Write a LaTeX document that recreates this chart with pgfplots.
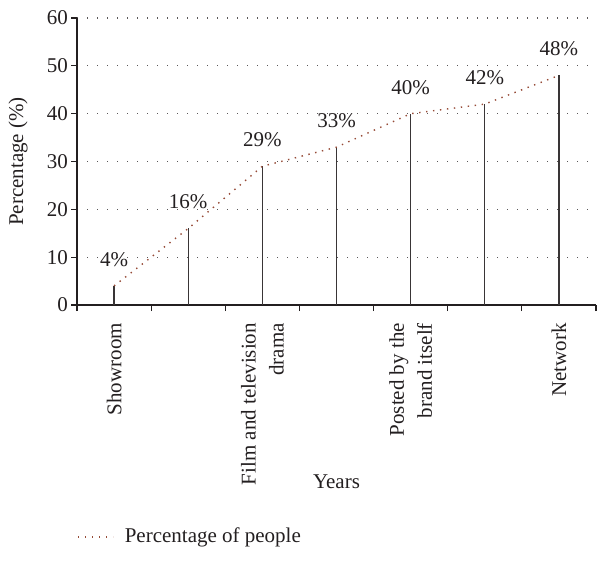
\documentclass[border=0pt]{standalone}
\usepackage{fontspec}
\setmainfont{Liberation Serif}
\usepackage{pgfplots}
\pgfplotsset{compat=1.18}
\definecolor{txt}{RGB}{35,31,32}
\definecolor{trend}{RGB}{150,75,55}
\begin{document}
\begin{tikzpicture}[font=\fontsize{10.5}{14}\selectfont, text=txt]
\useasboundingbox (-38.5pt,-132.5pt) rectangle (260pt,152.5pt);
\begin{axis}[
  at={(0,0)}, anchor=south west,
  scale only axis, width=259.5pt, height=143.5pt,
  xmin=-0.5, xmax=6.5, ymin=0, ymax=60,
  axis lines=left, axis line style={-, line width=0.6pt, draw=txt},
  xtick={-0.5,0.5,1.5,2.5,3.5,4.5,5.5,6.5}, xticklabels={},
  extra x ticks={0,2,4,6},
  extra x tick labels={Showroom,{Film and television\\drama},{Posted by the\\brand itself},Network},
  extra x tick style={major tick length=0pt, grid=none, tick style={draw=none}},
  ytick={0,10,...,60},
  tick align=outside, major tick length=3pt,
  tick style={line width=0.6pt, draw=txt},
  ymajorgrids,
  grid style={draw=txt!75, line width=0.6pt, dash pattern=on 0.6pt off 4.4pt},
  /pgf/number format/assume math mode=true,
  x tick label style={rotate=90, anchor=east, align=right, xshift=-5.5pt},
  y tick label style={xshift=2pt},
  xlabel={Years},
  xlabel style={at={(axis description cs:0.5,-0.6167)}, anchor=center},
  ylabel={Percentage (\%)},
  ylabel style={at={(axis description cs:-0.1137,0.5)}, anchor=center},
  legend style={at={(axis description cs:0,-0.808)}, anchor=west, draw=none, fill=none,
    inner sep=0pt, font=\fontsize{10.5}{14}\selectfont, text=txt},
  legend image code/.code={\draw[#1] (0pt,0pt) -- (17.5pt,0pt); \path (21pt,0pt);},
]
% stems for each channel, labelled with their share
\addplot[ycomb, draw=txt!90, line width=0.6pt, no marks, forget plot,
  nodes near coords={\pgfmathprintnumber{\pgfplotspointmeta}\%},
  every node near coord/.append style={yshift=6pt, text=txt}]
  coordinates {(0,4) (1,16) (2,29) (3,33) (4,40) (5,42) (6,48)};
% dotted trend through the tops
\addplot[draw=trend, line width=0.7pt, dash pattern=on 0.7pt off 2.8pt, no marks]
  coordinates {(0,4) (1,16) (2,29) (3,33) (4,40) (5,42) (6,48)};
\addlegendentry{Percentage of people}
\end{axis}
\end{tikzpicture}
\end{document}
